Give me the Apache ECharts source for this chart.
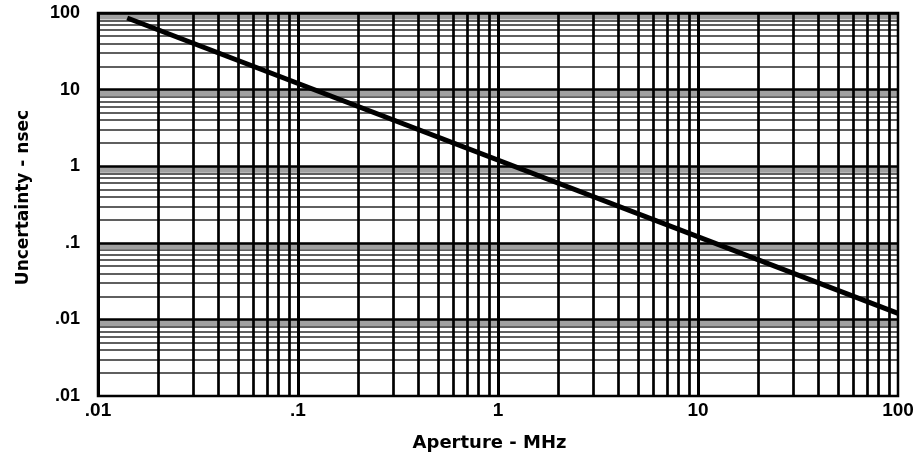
<!DOCTYPE html>
<html>
<head>
<meta charset="utf-8">
<script src="https://cdn.jsdelivr.net/npm/echarts@6/dist/echarts.min.js"></script>
<style>
  html, body { margin: 0; padding: 0; background: #fff; }
  #chart { width: 922px; height: 469px; }
</style>
</head>
<body>
<div id="chart"></div>
<script>
// Data
const aperture = [0.014, 100]            // MHz
const uncertainty = [86, 0.012]          // nsec

// Tick labels as printed (the bottom y label reads ".01" in the original)
const xTickLabels = ['.01', '.1', '1', '10', '100']
const yTickLabels = ['.01', '.01', '.1', '1', '10', '100']

// Graph-paper rulings
const xDecades = [0.01, 0.1, 1, 10, 100]
const yDecades = [0.001, 0.01, 0.1, 1, 10, 100]
const minorSteps = [2, 3, 4, 5, 6, 7, 8, 9]

const X_MIN = 0.01, X_MAX = 100
const Y_MIN = 0.001, Y_MAX = 100

const TICK_FONT = '"Liberation Sans", Arial, sans-serif'
const NAME_FONT = '"DejaVu Sans", Verdana, sans-serif'

const chart = echarts.init(document.getElementById('chart'))

const num = v => +v.toPrecision(3)

// horizontal minor rulings (drawn under the stipple)
const hMinor = []
yDecades.slice(0, -1).forEach(d => {
  minorSteps.forEach(m => {
    hMinor.push({ coords: [[X_MIN, num(m * d)], [X_MAX, num(m * d)]] })
  })
})

// decade lines and vertical rulings (drawn over the stipple)
const rulings = []
yDecades.forEach(d => {
  rulings.push({ coords: [[X_MIN, d], [X_MAX, d]], lineStyle: { width: 2.6 } })
})
xDecades.forEach((d, i) => {
  rulings.push({ coords: [[d, Y_MIN], [d, Y_MAX]], lineStyle: { width: 3 } })
  if (i < xDecades.length - 1) {
    minorSteps.forEach(m => {
      rulings.push({ coords: [[num(m * d), Y_MIN], [num(m * d), Y_MAX]], lineStyle: { width: 2.7 } })
    })
  }
})

// stippled band just under each decade line
const bands = yDecades.slice(1).map(d => [
  { yAxis: num(0.82 * d) },
  { yAxis: d }
])

const decadeIndex = (v, offset) => Math.round(Math.log10(v)) + offset

const option = {
  backgroundColor: '#fff',
  animation: false,
  grid: {
    left: 98,
    right: 24,
    top: 13,
    bottom: 73,
    show: true,
    borderColor: '#000',
    borderWidth: 2.5,
    z: 10
  },
  xAxis: {
    type: 'log',
    logBase: 10,
    min: X_MIN,
    max: X_MAX,
    name: 'Aperture - MHz',
    nameLocation: 'middle',
    nameGap: 38,
    nameTextStyle: {
      fontFamily: NAME_FONT,
      fontWeight: 'bold',
      fontSize: 18,
      color: '#000',
      padding: [0, 17, 0, 0]
    },
    axisLine: { show: false },
    axisTick: { show: false },
    axisLabel: {
      margin: 5,
      fontFamily: TICK_FONT,
      fontWeight: 'bold',
      fontSize: 19,
      color: '#000',
      formatter: v => xTickLabels[decadeIndex(v, 2)] || ''
    },
    splitLine: { show: false }
  },
  yAxis: {
    type: 'log',
    logBase: 10,
    min: Y_MIN,
    max: Y_MAX,
    name: 'Uncertainty - nsec',
    nameLocation: 'middle',
    nameGap: 66,
    nameTextStyle: {
      fontFamily: NAME_FONT,
      fontWeight: 'bold',
      fontSize: 17,
      color: '#000',
      padding: [0, 0, 0, 14]
    },
    axisLine: { show: false },
    axisTick: { show: false },
    axisLabel: {
      margin: 18,
      fontFamily: TICK_FONT,
      fontWeight: 'bold',
      fontSize: 18,
      color: '#000',
      formatter: v => yTickLabels[decadeIndex(v, 3)] || ''
    },
    splitLine: { show: false }
  },
  series: [
    {
      type: 'lines',
      coordinateSystem: 'cartesian2d',
      silent: true,
      z: 1,
      lineStyle: { color: '#2a2a2a', width: 1.6, opacity: 1, type: 'solid' },
      data: hMinor
    },
    {
      // shaded bands of the graph paper
      type: 'scatter',
      data: [],
      silent: true,
      z: 3,
      markArea: {
        silent: true,
        z: 3,
        itemStyle: { color: '#a0a0a0', opacity: 1 },
        data: bands
      }
    },
    {
      type: 'lines',
      coordinateSystem: 'cartesian2d',
      silent: true,
      z: 6,
      lineStyle: { color: '#000', opacity: 1, type: 'solid' },
      data: rulings
    },
    {
      name: 'Uncertainty',
      type: 'line',
      data: aperture.map((x, i) => [x, uncertainty[i]]),
      symbol: 'none',
      z: 20,
      lineStyle: { color: '#000', width: 5 }
    }
  ]
}

chart.setOption(option)
</script>
</body>
</html>
